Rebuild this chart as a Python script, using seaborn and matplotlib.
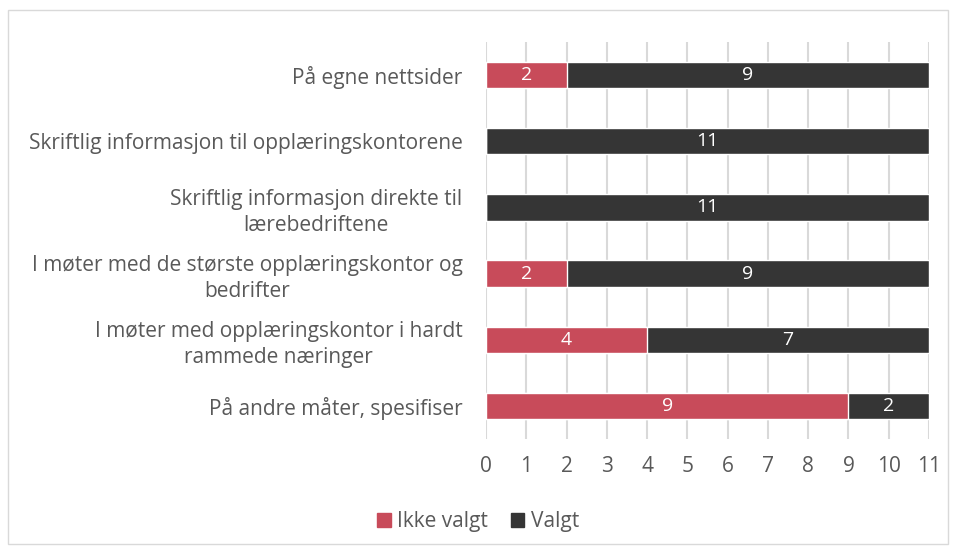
import matplotlib.pyplot as plt
import matplotlib.patches as mpatches
import seaborn as sns
import pandas as pd

sns.set_theme(style='white')
plt.rcParams['font.family'] = ['Open Sans', 'DejaVu Sans']

categories = [
    "På egne nettsider",
    "Skriftlig informasjon til opplæringskontorene",
    "Skriftlig informasjon direkte til\nlærebedriftene",
    "I møter med de største opplæringskontor og\nbedrifter",
    "I møter med opplæringskontor i hardt\nrammede næringer",
    "På andre måter, spesifiser",
]
ikke_valgt = [2, 0, 0, 2, 4, 9]
valgt = [9, 11, 11, 9, 7, 2]

red = '#C84B5A'
dark = '#353535'
text_grey = '#595959'

df = pd.DataFrame({'kategori': categories, 'Ikke valgt': ikke_valgt, 'Valgt': valgt})
df['total'] = df['Ikke valgt'] + df['Valgt']

fig = plt.figure(figsize=(9.56, 5.54), dpi=100)
ax = fig.add_axes([0.5084, 0.2076, 0.4634, 0.7166])

# stacked: full bar in dark, red part drawn over it
sns.barplot(data=df, y='kategori', x='total', color=dark, width=0.4,
            saturation=1, orient='h', ax=ax, zorder=2)
sns.barplot(data=df, y='kategori', x='Ikke valgt', color=red, width=0.4,
            saturation=1, orient='h', ax=ax, zorder=3)

for i, row in df.iterrows():
    if row['Ikke valgt'] > 0:
        ax.text(row['Ikke valgt'] / 2, i, str(row['Ikke valgt']), color='white',
                ha='center', va='center', fontsize=14, zorder=4)
    if row['Valgt'] > 0:
        ax.text(row['Ikke valgt'] + row['Valgt'] / 2, i, str(row['Valgt']),
                color='white', ha='center', va='center', fontsize=14, zorder=4)

ax.set_xlim(0, 11)
ax.set_ylim(5.5, -0.5)
ax.set_xticks(range(0, 12))
ax.xaxis.grid(True, color='#D9D9D9', linewidth=1.5, zorder=0)
ax.set_axisbelow(True)
for s in ax.spines.values():
    s.set_visible(False)
ax.tick_params(axis='x', colors=text_grey, labelsize=15, length=0, pad=12)
ax.tick_params(axis='y', colors=text_grey, labelsize=15, length=0, pad=17)
for lab in ax.get_yticklabels():
    lab.set_multialignment('center')
    lab.set_linespacing(1.3)
ax.set_xlabel('')
ax.set_ylabel('')

handles = [mpatches.Patch(color=red, label='Ikke valgt'),
           mpatches.Patch(color=dark, label='Valgt')]
leg = fig.legend(handles=handles, loc='center', bbox_to_anchor=(0.5, 0.058),
                 ncol=2, frameon=False, fontsize=15, handlelength=0.65,
                 handleheight=0.65, handletextpad=0.3, columnspacing=1.1)
for t in leg.get_texts():
    t.set_color(text_grey)

fig.patches.append(mpatches.Rectangle((0.008, 0.018), 0.984, 0.964,
                                      transform=fig.transFigure, fill=False,
                                      edgecolor='#D9D9D9', linewidth=1))

fig.savefig('out.png', dpi=100)
